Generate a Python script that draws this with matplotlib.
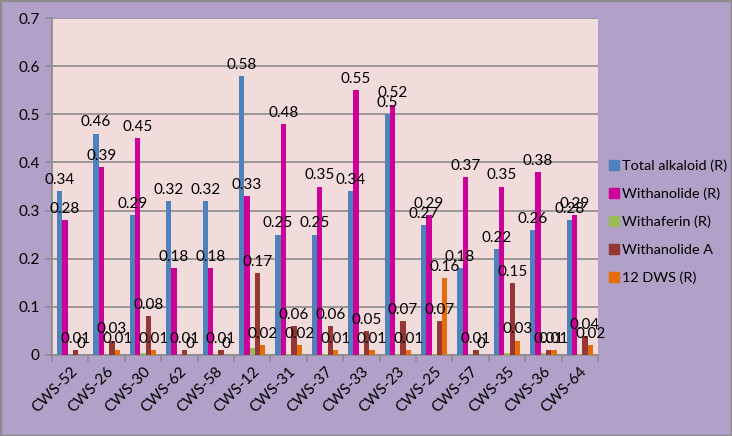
import numpy as np
import matplotlib.pyplot as plt
from matplotlib.lines import Line2D
from matplotlib.patches import Rectangle

plt.rcParams['font.family'] = ['Lato', 'DejaVu Sans']

# Data
samples = ['CWS-52', 'CWS-26', 'CWS-30', 'CWS-62', 'CWS-58', 'CWS-12', 'CWS-31', 'CWS-37',
           'CWS-33', 'CWS-23', 'CWS-25', 'CWS-57', 'CWS-35', 'CWS-36', 'CWS-64']
total_alkaloid = [0.34, 0.46, 0.29, 0.32, 0.32, 0.58, 0.25, 0.25, 0.34, 0.5, 0.27, 0.18, 0.22, 0.26, 0.28]
withanolide = [0.28, 0.39, 0.45, 0.18, 0.18, 0.33, 0.48, 0.35, 0.55, 0.52, 0.29, 0.37, 0.35, 0.38, 0.29]
withaferin = [0, 0, 0.005, 0, 0, 0.015, 0.002, 0.002, 0.003, 0.002, 0.002, 0, 0.005, 0.005, 0.003]
withanolide_a = [0.01, 0.03, 0.08, 0.01, 0.01, 0.17, 0.06, 0.06, 0.05, 0.07, 0.07, 0.01, 0.15, 0.01, 0.04]
dws12 = [0, 0.01, 0.01, 0, 0, 0.02, 0.02, 0.01, 0.01, 0.01, 0.16, 0, 0.03, 0.01, 0.02]

series = [
    ('Total alkaloid (R)', total_alkaloid, '#4F81BD', True),
    ('Withanolide (R)', withanolide, '#CC0099', True),
    ('Withaferin (R)', withaferin, '#9BBB59', False),
    ('Withanolide A', withanolide_a, '#953735', True),
    ('12 DWS (R)', dws12, '#E46C0A', True),
]

W, H = 732, 436
fig = plt.figure(figsize=(W / 100, H / 100), dpi=100, facecolor='#B1A0C7')
ax = fig.add_axes([52 / W, 1 - 355 / H, 546 / W, 337 / H])
ax.set_facecolor('#F2DCDB')

x = np.arange(len(samples))
bw = 0.145
for i, (name, vals, col, show) in enumerate(series):
    pos = x + (i - 2) * bw
    ax.bar(pos, vals, width=bw, color=col, zorder=3)
    if show:
        for px, v in zip(pos, vals):
            lab = '0' if v == 0 else ('%g' % v)
            ax.annotate(lab, (px, v), xytext=(0, 3), textcoords='offset points',
                        ha='center', va='bottom', fontsize=11, color='black', zorder=5)

ax.set_xlim(-0.5, len(samples) - 0.5)
ax.set_ylim(0, 0.7)
ax.set_yticks(np.arange(0, 0.71, 0.1))
ax.set_yticklabels(['0'] + ['%.1f' % v for v in np.arange(0.1, 0.71, 0.1)], fontsize=11)
ax.yaxis.grid(True, color='#8C8C8C', lw=1.2, zorder=1)
ax.set_axisbelow(True)

ax.set_xticks(x)
ax.set_xticklabels(samples, rotation=45, ha='right', rotation_mode='anchor', fontsize=11)
ax.tick_params(axis='x', which='major', length=0, pad=7)
ax.set_xticks(np.arange(-0.5, len(samples), 1), minor=True)
ax.tick_params(axis='x', which='minor', length=5, color='#8C8C8C', width=1.2)
ax.tick_params(axis='y', length=5, color='#8C8C8C', width=1.2, pad=4)

for s in ['top', 'right']:
    ax.spines[s].set_visible(False)
for s in ['left', 'bottom']:
    ax.spines[s].set_color('#8C8C8C')
    ax.spines[s].set_linewidth(1.2)

handles = [Line2D([], [], marker='s', ls='', color=c, markersize=7) for _, _, c, _ in series]
fig.legend(handles, [n for n, _, _, _ in series], loc='upper left',
           bbox_to_anchor=(602 / W, 1 - 152 / H), frameon=False, fontsize=10.4,
           labelspacing=1.08, handlelength=0.6, handletextpad=0.25, borderpad=0)

fig.patches.append(Rectangle((0, 0), 1, 1, transform=fig.transFigure, fill=False,
                             edgecolor='#8C8C8C', lw=2.5))

fig.savefig('out.png', dpi=100, facecolor=fig.get_facecolor())
